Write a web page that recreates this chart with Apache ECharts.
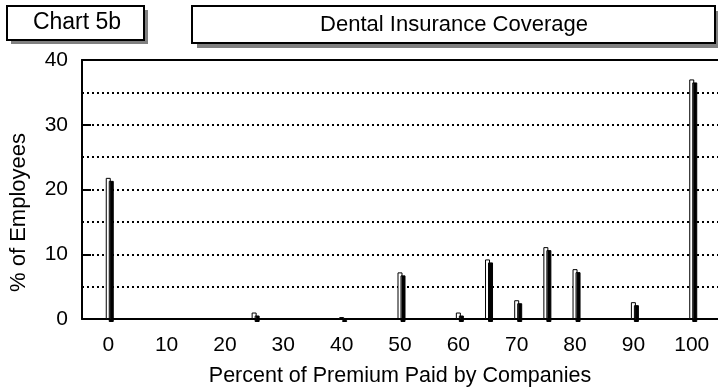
<!DOCTYPE html>
<html>
<head>
<meta charset="utf-8">
<script src="https://cdn.jsdelivr.net/npm/echarts@6/dist/echarts.min.js"></script>
<style>
html,body{margin:0;padding:0;background:#fff;}
#chart{width:718px;height:392px;}
</style>
</head>
<body>
<div id="chart"></div>
<script>
const chartTag = "Chart 5b";
const chartTitle = "Dental Insurance Coverage";
const xAxisTitle = "Percent of Premium Paid by Companies";
const yAxisTitle = "% of Employees";
const premiumPct = [0, 25, 40, 50, 60, 65, 70, 75, 80, 90, 100];
const employeesPct = [21.8, 1.0, 0.3, 7.2, 1.0, 9.2, 2.9, 11.1, 7.7, 2.6, 37.0];
const xTickLabels = [0, 10, 20, 30, 40, 50, 60, 70, 80, 90, 100];
const yTickLabels = [0, 10, 20, 30, 40];
const yTickMarks = [10, 20, 30];

const FONT = "Liberation Sans, Arial, sans-serif";
const chart = echarts.init(document.getElementById('chart'), null, {renderer: 'canvas'});

const option = {
  animation: false,
  backgroundColor: '#fff',
  grid: {left: 82, right: 0, top: 60, bottom: 72, containLabel: false},
  xAxis: [{
    type: 'value', min: -4.5, max: 104.5,
    axisLine: {show: true, onZero: false, lineStyle: {color: '#000', width: 2}},
    axisTick: {show: false},
    splitLine: {show: false},
    axisLabel: {customValues: xTickLabels, color: '#000', fontSize: 21, fontFamily: FONT, margin: 16},
    name: xAxisTitle, nameLocation: 'middle', nameGap: 46,
    nameTextStyle: {color: '#000', fontSize: 21.5, fontFamily: FONT}
  }, {
    type: 'value', min: -4.5, max: 104.5, position: 'top',
    axisLine: {show: true, onZero: false, lineStyle: {color: '#000', width: 2}},
    axisTick: {show: false}, axisLabel: {show: false}, splitLine: {show: false}
  }],
  yAxis: [{
    type: 'value', min: 0, max: 40, interval: 10,
    axisLine: {show: true, onZero: false, lineStyle: {color: '#000', width: 2}},
    axisTick: {show: true, inside: true, length: 9, customValues: yTickMarks, lineStyle: {color: '#000', width: 2}},
    axisLabel: {customValues: yTickLabels, color: '#000', fontSize: 21, fontFamily: FONT, margin: 14},
    splitLine: {show: false},
    name: yAxisTitle, nameLocation: 'middle', nameGap: 52, nameRotate: 90,
    nameTextStyle: {color: '#000', fontSize: 22, fontFamily: FONT, padding: [0, 46, 0, 0]},
    z: 3
  }, {
    type: 'value', min: 0, max: 40, interval: 5, position: 'left',
    axisLine: {show: false}, axisTick: {show: false}, axisLabel: {show: false},
    splitLine: {show: true, lineStyle: {color: '#000', width: 2, type: [2, 3]}},
    z: 1
  }],
  graphic: [
    {type: 'rect', shape: {x: 11, y: 10, width: 137, height: 34}, z: 9,
     style: {fill: '#808080', stroke: null}},
    {type: 'rect', shape: {x: 7, y: 6, width: 137, height: 34}, z: 10,
     style: {fill: '#fff', stroke: '#000', lineWidth: 2}},
    {type: 'text', x: 77, y: 23, z: 11,
     style: {text: chartTag, fill: '#000', font: '23px ' + FONT, align: 'center', verticalAlign: 'middle'}},
    {type: 'rect', shape: {x: 197, y: 11, width: 523, height: 37}, z: 9,
     style: {fill: '#808080', stroke: null}},
    {type: 'rect', shape: {x: 192, y: 6, width: 523, height: 37}, z: 10,
     style: {fill: '#fff', stroke: '#000', lineWidth: 2}},
    {type: 'text', x: 454, y: 25, z: 11,
     style: {text: chartTitle, fill: '#000', font: '22px ' + FONT, align: 'center', verticalAlign: 'middle'}}
  ],
  series: [{
    type: 'bar',
    xAxisIndex: 0,
    yAxisIndex: 0,
    barWidth: 5,
    data: premiumPct.map((x, i) => [x, employeesPct[i]]),
    itemStyle: {color: '#fff', borderColor: '#000', borderWidth: 1,
      shadowColor: '#000', shadowOffsetX: 3, shadowOffsetY: 3, shadowBlur: 0},
    z: 5
  }]
};
chart.setOption(option);
</script>
</body>
</html>
